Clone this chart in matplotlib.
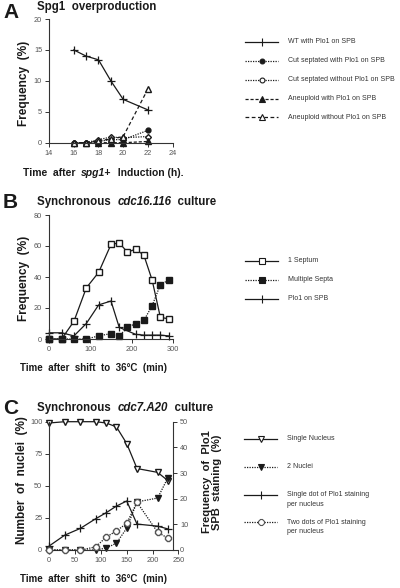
import numpy as np
import matplotlib
matplotlib.use("Agg")
import matplotlib.pyplot as plt
from matplotlib.lines import Line2D

plt.rcParams['font.family'] = ['Liberation Sans', 'DejaVu Sans']

# ---- panel A: Spg1 overproduction
a_time = [16, 17, 18, 19, 20, 22]
a_wt = [15, 14, 13.4, 10, 7, 5.3]
a_cut_with = [0, 0, 0.2, 0.5, 0.5, 2.0]
a_cut_without = [0, 0, 0.5, 0.9, 0.8, 1.0]
a_aneu_with = [0, 0, 0, 0, 0, 0.2]
a_aneu_without = [0, 0, 0.3, 0.6, 1.0, 8.7]

# ---- panel B: synchronous cdc16.116
b_time_sept = [0, 30, 60, 90, 120, 150, 170, 190, 210, 230, 250, 270, 290]
b_one_septum = [0, 0, 11.5, 33, 43, 61, 62, 56, 58, 54, 38, 14, 13]
b_multi_septa = [0, 0, 0, 0, 2, 3.5, 2, 7.5, 10, 12, 21.5, 35, 38]
b_time_plo = [0, 30, 60, 90, 120, 150, 170, 210, 230, 250, 270, 290]
b_plo1 = [4, 4, 2, 10, 22, 24.5, 7.5, 3, 2.5, 2.5, 2.5, 2]

# ---- panel C: synchronous cdc7.A20
c_time = [0, 30, 60, 90, 110, 130, 150, 170, 210, 230]
c_single_nuc = [99, 100, 100, 100, 99, 96, 83, 63.5, 60.5, 54]
c_two_nuc = [0, 0, 0, 0, 1.5, 5.3, 17, 37.5, 40.5, 56.5]
c_single_dot = [1.6, 5.8, 8.4, 12.2, 14.5, 17.1, 19.1, 10.1, 9.3, 8.2]
c_two_dots = [0, 0, 0, 1.2, 5.0, 7.4, 10.4, 18.6, 6.9, 4.6]

W, H = 400, 588
fig = plt.figure(figsize=(4, 5.88), dpi=100)

def fx(x):
    return x / W

def fy(y):
    return 1 - y / H

def px_axes(left, top, right, bottom):
    return fig.add_axes([fx(left), fy(bottom), fx(right - left), (bottom - top) / H])

INK = '#1a1a1a'
TICKC = '#555555'

def style_axes(ax, right=False):
    for s in ['top'] + ([] if right else ['right']):
        ax.spines[s].set_visible(False)
    for s in ax.spines.values():
        s.set_linewidth(0.8)
        s.set_color('#333333')
    ax.tick_params(direction='out', length=3, width=0.7, labelsize=5.3,
                   labelcolor=TICKC, colors='#333333', pad=2)

lw = 0.9
kw = dict(color=INK, lw=lw, clip_on=False)

# ---------------- A
axA = px_axes(49, 19, 172.7, 142.7)
axA.plot(a_time, a_wt, ls='-', marker='+', ms=6, mew=0.9, **kw)
axA.plot(a_time, a_cut_with, ls=(0, (1, 1)), marker='o', ms=3.5, mfc=INK, **kw)
axA.plot(a_time, a_cut_without, ls=(0, (1, 1)), marker='D', ms=3, mfc='white', **kw)
axA.plot(a_time, a_aneu_with, ls=(0, (2.5, 1.5)), marker='^', ms=4, mfc=INK, **kw)
axA.plot(a_time, a_aneu_without, ls=(0, (3, 2)), marker='^', ms=4, mfc='white', **kw)
axA.set_xlim(14, 24)
axA.set_ylim(0, 20)
axA.set_xticks(range(14, 25, 2))
axA.set_yticks(range(0, 21, 5))
style_axes(axA)

# ---------------- B
axB = px_axes(49.3, 215, 172.7, 339)
axB.plot(b_time_sept, b_one_septum, ls='-', marker='s', ms=4, mfc='white', **kw)
axB.plot(b_time_sept, b_multi_septa, ls=(0, (1, 1)), marker='s', ms=4, mfc=INK, **kw)
axB.plot(b_time_plo, b_plo1, ls='-', marker='+', ms=6, mew=0.9, **kw)
axB.set_xlim(0, 300)
axB.set_ylim(0, 80)
axB.set_xticks([0, 100, 200, 300])
axB.set_yticks(range(0, 81, 20))
style_axes(axB)

# ---------------- C
axC = px_axes(49.3, 421.7, 178.3, 550)
axC.plot(c_time, c_single_nuc, ls='-', marker='v', ms=4.5, mfc='white', **kw)
axC.plot(c_time, c_two_nuc, ls=(0, (1, 1)), marker='v', ms=4.5, mfc=INK, **kw)
axC.set_xlim(0, 250)
axC.set_ylim(0, 100)
axC.set_xticks(range(0, 251, 50))
axC.set_yticks(range(0, 101, 25))
style_axes(axC)
axC2 = axC.twinx()
axC2.plot(c_time, c_single_dot, ls='-', marker='+', ms=6, mew=0.9, **kw)
axC2.plot(c_time, c_two_dots, ls=(0, (1, 1)), marker='8', ms=4, mfc='white', color=INK,
          mec='#555555', lw=lw, clip_on=False)
axC2.set_ylim(0, 50)
axC2.set_yticks(range(0, 51, 10))
axC2.spines['right'].set_position(('data', 240))
style_axes(axC2, right=True)
axC2.spines['left'].set_visible(False)
axC2.spines['bottom'].set_visible(False)

# ---------------- texts
def rich(x, y, parts, size):
    t = fig.text(fx(x), fy(y), parts[0][0], fontsize=size, fontweight='bold',
                 style=parts[0][1], va='center', ha='left', color=INK)
    prev = t
    for s, st in parts[1:]:
        prev = axA.annotate(s, xy=(1, 0), xycoords=prev, va='bottom', ha='left',
                            fontsize=size, fontweight='bold', style=st, color=INK,
                            annotation_clip=False)

for letter, y in [('A', 12), ('B', 203), ('C', 408)]:
    fig.text(fx(3), fy(y), letter, fontsize=15, fontweight='bold', va='center', color=INK)

rich(37, 7, [('Spg1  overproduction', 'normal')], 8.3)
rich(37, 202, [('Synchronous  ', 'normal'), ('cdc16.116', 'italic'), ('  culture', 'normal')], 8.3)
rich(37, 408, [('Synchronous  ', 'normal'), ('cdc7.A20', 'italic'), ('  culture', 'normal')], 8.3)

rich(23, 173, [('Time  after  ', 'normal'), ('spg1+', 'italic'), ('  Induction (h).', 'normal')], 7.5)
rich(20, 368, [('Time  after  shift  to  36\u00b0C  (min)', 'normal')], 7)
rich(20, 579, [('Time  after  shift  to  36\u00b0C  (min)', 'normal')], 7)

fig.text(fx(24), fy(83), 'Frequency  (%)', rotation=90, fontsize=8.6, fontweight='bold',
         va='center', ha='center', color=INK)
fig.text(fx(24), fy(278), 'Frequency  (%)', rotation=90, fontsize=8.6, fontweight='bold',
         va='center', ha='center', color=INK)
fig.text(fx(22), fy(480), 'Number  of  nuclei  (%)', rotation=90, fontsize=8.5, fontweight='bold',
         va='center', ha='center', color=INK)
fig.text(fx(212), fy(482), 'Frequency  of  Plo1\nSPB  staining  (%)', rotation=90, fontsize=8,
         fontweight='bold', va='center', ha='center', color=INK, linespacing=1.0)

# ---------------- legends (figure level, pixel positions)
LEGFS = 5.0

def leg_row(y, ls, marker, mfc, label, ms=4, mew=0.8, mec=INK, x0=245, x1=278, tx=288):
    ln = Line2D([fx(x0), fx((x0 + x1) / 2), fx(x1)], [fy(y)] * 3, transform=fig.transFigure,
                ls=ls, lw=lw, color=INK, marker=marker, markevery=[1], ms=ms, mfc=mfc,
                mec=mec, mew=mew)
    fig.add_artist(ln)
    fig.text(fx(tx), fy(y), label, fontsize=LEGFS, color='#333333', va='center', ha='left')

leg_row(41.5, '-', '|', INK, 'WT with Plo1 on SPB', ms=6)
leg_row(60.5, (0, (1, 1)), 'o', INK, 'Cut septated with Plo1 on SPB', ms=3.5)
leg_row(79.5, (0, (1, 1)), 'o', 'white', 'Cut septated without Plo1 on SPB', ms=3.5)
leg_row(98.5, (0, (2.5, 1.5)), '^', INK, 'Aneuploid with Plo1 on SPB')
leg_row(117, (0, (3, 2)), '^', 'white', 'Aneuploid without Plo1 on SPB')

leg_row(261, '-', 's', 'white', '1 Septum')
leg_row(279.5, (0, (1, 1)), 's', INK, 'Multiple Septa')
leg_row(298.5, '-', '|', INK, 'Plo1 on SPB', ms=6)

leg_row(439, '-', 'v', 'white', 'Single Nucleus', ms=4.5, x0=244, x1=277, tx=287)
leg_row(467, (0, (1, 1)), 'v', INK, '2 Nuclei', ms=4.5, x0=244, x1=277, tx=287)
leg_row(495, '-', '|', INK, 'Single dot of Plo1 staining', ms=6, x0=244, x1=277, tx=287)
fig.text(fx(287), fy(504.5), 'per nucleus', fontsize=LEGFS, color='#333333', va='center')
leg_row(522, (0, (1, 1)), '8', 'white', 'Two dots of Plo1 staining', ms=4, mec='#555555',
        x0=244, x1=277, tx=287)
fig.text(fx(287), fy(531.5), 'per nucleus', fontsize=LEGFS, color='#333333', va='center')

fig.savefig('out.png', dpi=100)
